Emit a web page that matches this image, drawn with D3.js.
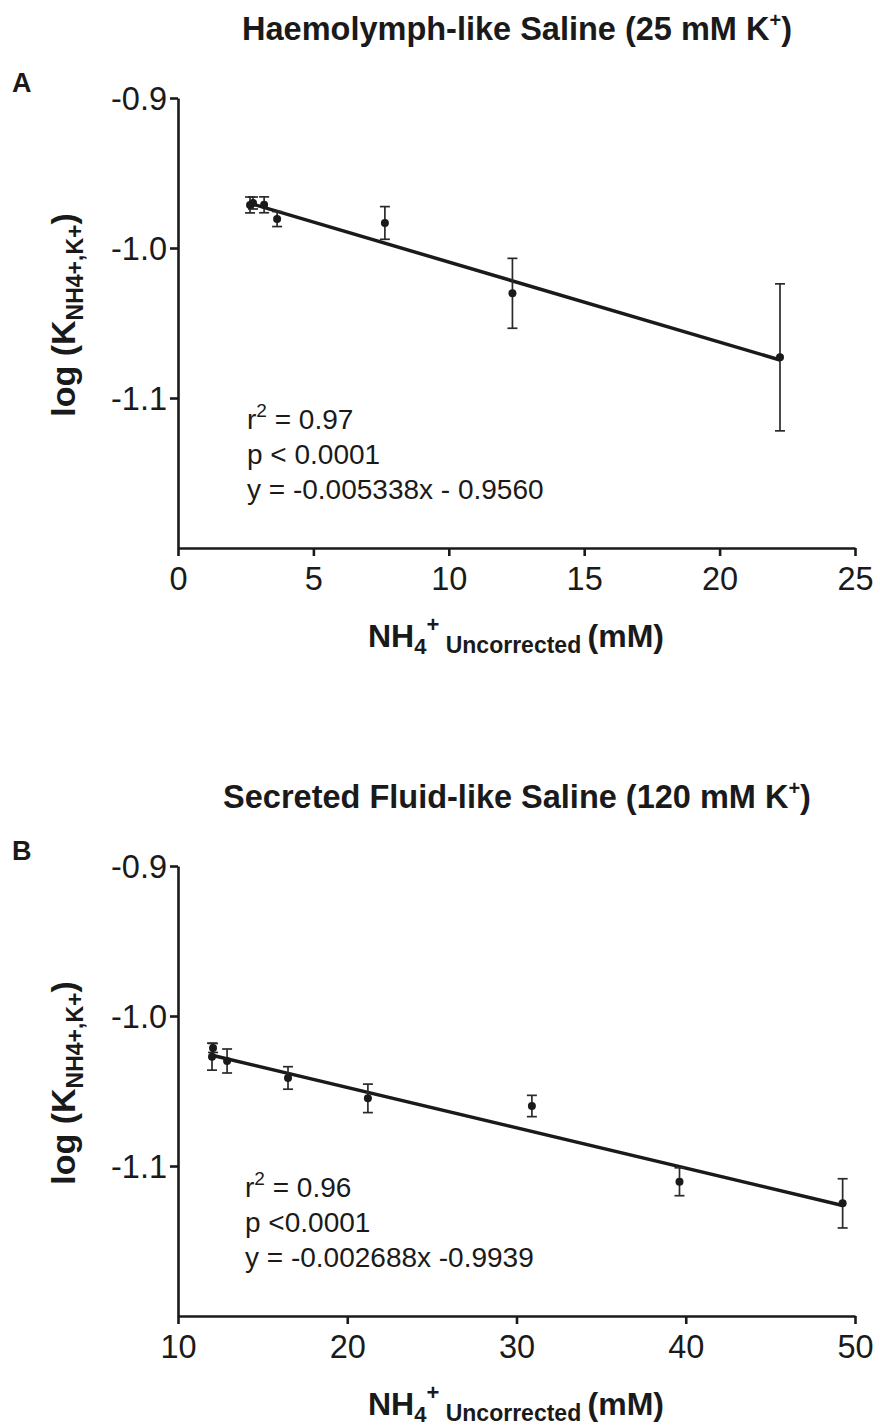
<!DOCTYPE html>
<html><head><meta charset="utf-8">
<script src="https://cdn.jsdelivr.net/npm/d3@7"></script>
<style>
body{margin:0;background:#fff;}
svg{display:block;font-family:"Liberation Sans",Arial,Helvetica,sans-serif;}
</style></head>
<body>
<svg id="chart" width="880" height="1428"></svg>
<script>
// Panel A data: Haemolymph-like saline
const xA = [2.66, 2.77, 3.18, 3.66, 7.64, 12.35, 22.23];
const yA = [-0.9713, -0.9700, -0.9712, -0.9807, -0.9833, -1.0302, -1.0729];
const eA = [0.0053, 0.0040, 0.0053, 0.0050, 0.0109, 0.0233, 0.0490];
const fitA = {slope: -0.005338, intercept: -0.9560};
const xTicksA = [0, 5, 10, 15, 20, 25];

// Panel B data: Secreted fluid-like saline
const xB = [12.07, 12.01, 12.90, 16.50, 21.22, 30.91, 39.63, 49.27];
const yB = [-1.0213, -1.0271, -1.0300, -1.0413, -1.0549, -1.0600, -1.1105, -1.1249];
const eB = [0.0030, 0.0090, 0.0080, 0.0075, 0.0095, 0.0071, 0.0093, 0.0164];
const fitB = {slope: -0.002688, intercept: -0.9939};
const xTicksB = [10, 20, 30, 40, 50];

const yTicks = [-0.9, -1.0, -1.1];

const svg = d3.select("#chart");

function panel(cfg) {
  const g = svg.append("g");
  const x = d3.scaleLinear().domain(cfg.xDomain).range([178, 855]);
  const y = d3.scaleLinear().domain([-1.2, -0.9]).range([cfg.top + 450, cfg.top]);

  // title
  const t = g.append("text").attr("x", 517).attr("y", cfg.top - 58)
    .attr("text-anchor", "middle").attr("font-size", 32.5).attr("font-weight", "bold").attr("fill", "#1a1a1a");
  t.append("tspan").text(cfg.title);
  t.append("tspan").attr("font-size", 20).attr("dy", -13).text("+");
  t.append("tspan").attr("dy", 13).text(")");

  g.append("text").attr("x", 12).attr("y", cfg.top - 6).attr("font-size", 27)
    .attr("font-weight", "bold").attr("fill", "#1a1a1a").text(cfg.letter);

  // axes
  const ya = g.append("g").attr("transform", "translate(178,0)")
    .call(d3.axisLeft(y).tickValues(yTicks).tickFormat(d => d.toFixed(1)).tickSize(8).tickSizeOuter(0).tickPadding(3));
  const xa = g.append("g").attr("transform", `translate(0,${cfg.top + 450})`)
    .call(d3.axisBottom(x).tickValues(cfg.xTicks).tickFormat(d => d).tickSize(8).tickSizeOuter(0).tickPadding(8));
  [ya, xa].forEach(a => {
    a.select(".domain").attr("stroke", "#1a1a1a").attr("stroke-width", 2.6);
    a.selectAll(".tick line").attr("stroke", "#1a1a1a").attr("stroke-width", 2.6);
    a.selectAll(".tick text").attr("font-size", 32.5).attr("fill", "#1a1a1a")
      .attr("font-family", "'Liberation Sans',Arial,sans-serif");
  });
  ya.selectAll(".tick text").attr("dy", "0.36em");
  xa.selectAll(".tick text").attr("dy", "0.8em");

  // y label
  const yl = g.append("text").attr("transform", `translate(75,${cfg.top + 217}) rotate(-90)`)
    .attr("text-anchor", "middle").attr("font-size", 34).attr("font-weight", "bold").attr("fill", "#1a1a1a");
  yl.append("tspan").text("log (K");
  yl.append("tspan").attr("font-size", 23).attr("dy", 8).text("NH4+,K+");
  yl.append("tspan").attr("dy", -8).text(")");

  // x label
  const xl = g.append("text").attr("x", 516).attr("y", cfg.top + 549)
    .attr("text-anchor", "middle").attr("font-size", 32).attr("font-weight", "bold").attr("fill", "#1a1a1a");
  xl.append("tspan").text("NH");
  xl.append("tspan").attr("font-size", 22).attr("dy", 7).text("4");
  xl.append("tspan").attr("font-size", 22).attr("dy", -22).text("+");
  xl.append("tspan").attr("font-size", 23).attr("dy", 21).text("\u00a0Uncorrected\u00a0");
  xl.append("tspan").attr("dy", -6).text("(mM)");

  // regression
  const xs = cfg.xs, ys = cfg.ys, es = cfg.es;
  const x0 = d3.min(xs), x1 = d3.max(xs);
  g.append("line")
    .attr("x1", x(x0)).attr("y1", y(cfg.fit.slope * x0 + cfg.fit.intercept))
    .attr("x2", x(x1)).attr("y2", y(cfg.fit.slope * x1 + cfg.fit.intercept))
    .attr("stroke", "#1a1a1a").attr("stroke-width", 3.5);

  // error bars
  const idx = d3.range(xs.length);
  const eb = g.append("g").attr("stroke", "#2a2a2a").attr("stroke-width", 1.7);
  idx.forEach(i => {
    const cx = x(xs[i]), yt = y(ys[i] + es[i]), yb = y(ys[i] - es[i]);
    eb.append("line").attr("x1", cx).attr("x2", cx).attr("y1", yt).attr("y2", yb);
    eb.append("line").attr("x1", cx - 5).attr("x2", cx + 5).attr("y1", yt).attr("y2", yt);
    eb.append("line").attr("x1", cx - 5).attr("x2", cx + 5).attr("y1", yb).attr("y2", yb);
  });
  g.append("g").selectAll("circle").data(idx).join("circle")
    .attr("cx", i => x(xs[i])).attr("cy", i => y(ys[i])).attr("r", 4).attr("fill", "#1a1a1a");

  // annotations
  const ann = g.append("g").attr("font-size", 28).attr("fill", "#1a1a1a");
  const r = ann.append("text").attr("x", cfg.annX).attr("y", cfg.top + 331);
  r.append("tspan").text("r");
  r.append("tspan").attr("font-size", 19).attr("dy", -12).text("2");
  r.append("tspan").attr("dy", 12).text(" = " + cfg.r2);
  ann.append("text").attr("x", cfg.annX).attr("y", cfg.top + 366).text(cfg.p);
  ann.append("text").attr("x", cfg.annX).attr("y", cfg.top + 401).text(cfg.eq);
}

panel({top: 98, letter: "A", title: "Haemolymph-like Saline (25 mM K", xDomain: [0, 25], xTicks: xTicksA,
  xs: xA, ys: yA, es: eA, fit: fitA, annX: 247, r2: "0.97", p: "p < 0.0001", eq: "y = -0.005338x - 0.9560"});
panel({top: 866, letter: "B", title: "Secreted Fluid-like Saline (120 mM K", xDomain: [10, 50], xTicks: xTicksB,
  xs: xB, ys: yB, es: eB, fit: fitB, annX: 245, r2: "0.96", p: "p <0.0001", eq: "y = -0.002688x -0.9939"});
</script>
</body></html>
